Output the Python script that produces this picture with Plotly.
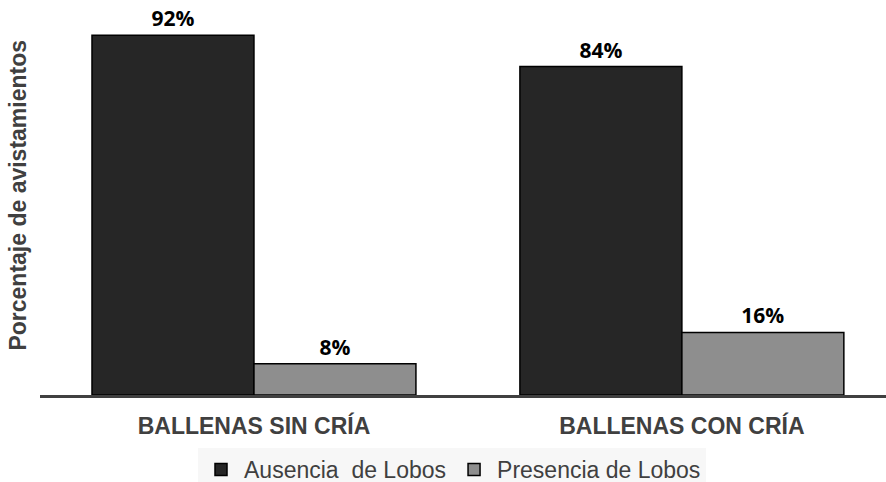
import plotly.graph_objects as go

categories = ["BALLENAS SIN CRÍA", "BALLENAS CON CRÍA"]
ausencia = [92, 84]
presencia = [8, 16]
series_names = ["Ausencia  de Lobos", "Presencia de Lobos"]

fig = go.Figure()
fig.add_trace(go.Bar(
    x=categories, y=ausencia, name=series_names[0],
    marker=dict(color="#262626", line=dict(color="#000000", width=1.5)),
    texttemplate="%{y}%", textposition="outside",
    textfont=dict(family="Open Sans", size=21, color="#000000", weight="bold"),
    cliponaxis=False,
))
fig.add_trace(go.Bar(
    x=categories, y=presencia, name=series_names[1],
    marker=dict(color="#8e8e8e", line=dict(color="#000000", width=1.5)),
    texttemplate="%{y}%", textposition="outside",
    textfont=dict(family="Open Sans", size=21, color="#000000", weight="bold"),
    cliponaxis=False,
))

fig.update_layout(
    width=886, height=482,
    margin=dict(l=40, r=0, t=4, b=87, autoexpand=False),
    paper_bgcolor="white", plot_bgcolor="white",
    barmode="group", bargap=0.243, bargroupgap=0,
    showlegend=True,
    legend=dict(orientation="h", x=0.487, xanchor="center", y=-0.1355, yanchor="top",
                bgcolor="#f7f7f7", itemwidth=36,
                font=dict(family="Liberation Sans", size=23, color="#404040")),
    xaxis=dict(range=[-0.5, 1.477], showline=True, linecolor="#404040", linewidth=3,
               ticks="", showgrid=False, ticklabelstandoff=8, automargin=False,
               tickfont=dict(family="Liberation Sans", size=23, color="#404040", weight="bold")),
    yaxis=dict(range=[0, 100], showticklabels=False, showgrid=False, zeroline=False,
               showline=False, ticks="", automargin=False),
    annotations=[dict(text="<b>Porcentaje de avistamientos</b>", textangle=-90,
                      xref="paper", yref="paper", x=0, y=0.51, xshift=-22,
                      xanchor="center", yanchor="middle", showarrow=False,
                      font=dict(family="Liberation Sans", size=23, color="#404040"))],
)

fig.write_html("out.html")
